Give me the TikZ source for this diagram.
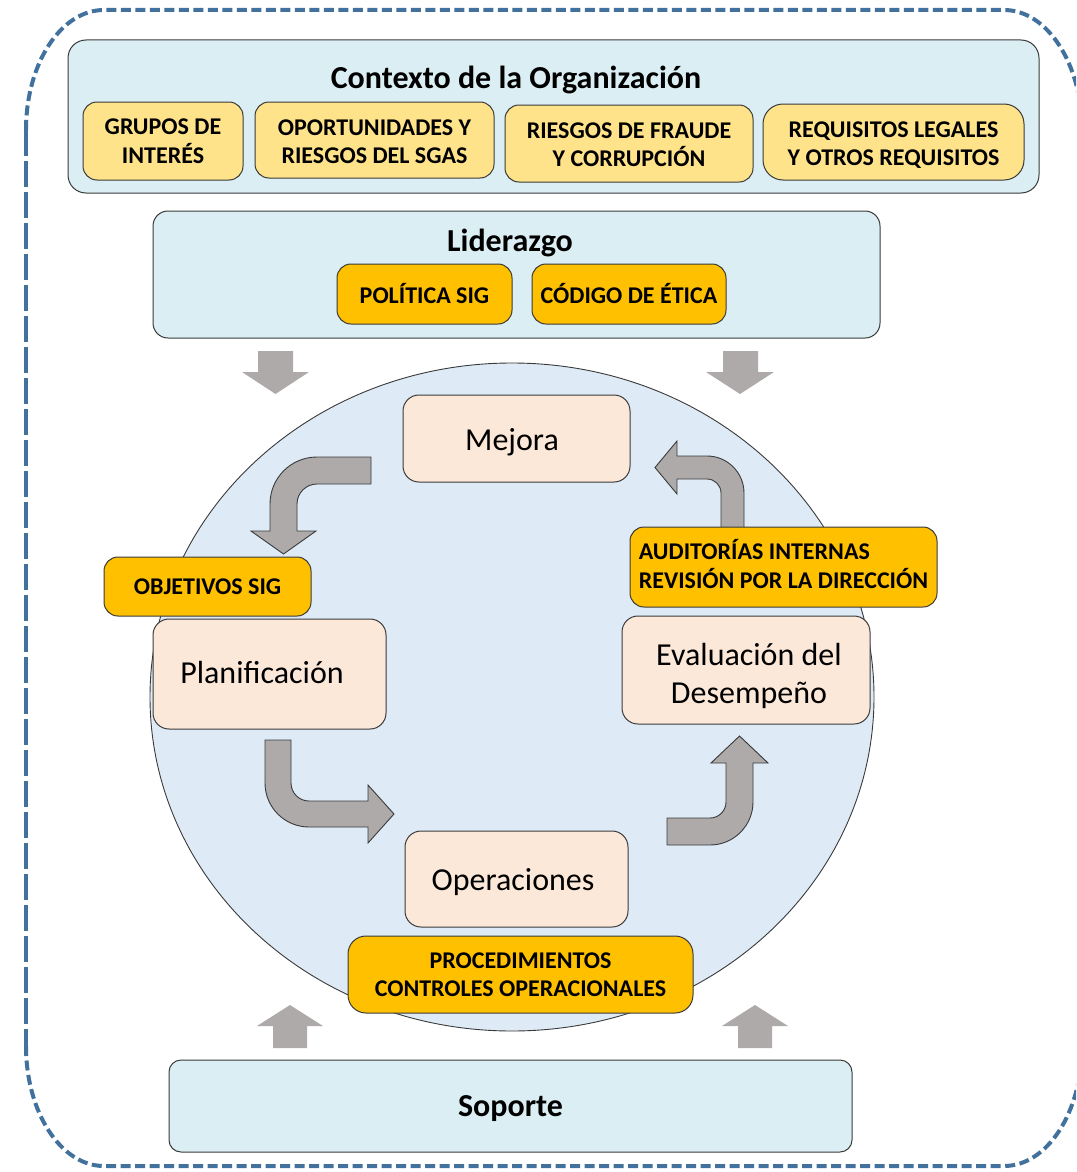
\documentclass[tikz,border=0pt]{standalone}
\usepackage{fontspec}
\setmainfont{Carlito}
\usetikzlibrary{shapes.geometric}
\definecolor{dashblue}{HTML}{41719C}
\definecolor{ctxblue}{HTML}{DAEEF3}
\definecolor{circblue}{HTML}{DEEBF7}
\definecolor{peach}{HTML}{FCE8D9}
\definecolor{ylight}{HTML}{FFE38B}
\definecolor{yorange}{HTML}{FFC000}
\definecolor{arrgray}{HTML}{AEAAAA}
\definecolor{edgegray}{HTML}{3A3A3A}
\newcommand\titlefnt{\fontsize{32}{38}\selectfont\bfseries}
\newcommand\tagfnt{\fontsize{24}{28.5}\selectfont\bfseries}
\newcommand\procfnt{\fontsize{32}{38}\selectfont}
\begin{document}
\begin{tikzpicture}[x=1pt,y=-1pt,
  bigbox/.style={draw=edgegray, fill=ctxblue, line width=1pt, rounded corners=18pt, inner sep=0pt},
  tagbox/.style={draw=edgegray, line width=1pt, rounded corners=14pt, inner sep=0pt},
  lightbox/.style={tagbox, fill=ylight},
  darkbox/.style={tagbox, fill=yorange},
  procbox/.style={draw=edgegray, fill=peach, line width=1pt, rounded corners=16pt, inner sep=0pt},
  titletext/.style={inner sep=0pt, font=\titlefnt},
  tagtext/.style={inner sep=0pt, align=center, font=\tagfnt},
  proctext/.style={inner sep=0pt, align=center, font=\procfnt},
  blockarrow/.style={fill=arrgray, draw=none},
  bentarrow/.style={fill=arrgray, draw=edgegray, line width=0.9pt, line join=miter},
  outline/.style={draw=dashblue, line width=4pt}
]
\useasboundingbox (0,0) rectangle (1076,1172);
\clip (0,0) rectangle (1076,1172);

% outer dashed frame
\draw[outline, dash pattern=on 10pt off 4.5pt]
  (26,1046) .. controls (26,1112.3) and (60.9,1166) .. (104,1166)
  -- (1004,1166) .. controls (1047.1,1166) and (1082,1112.3) .. (1082,1046)
  -- (1082,130) .. controls (1082,63.7) and (1047.1,10) .. (1004,10)
  -- (104,10) .. controls (60.9,10) and (26,63.7) .. (26,130);
\draw[outline, dash pattern=on 26pt off 5pt] (26,130) -- (26,1046);

% Contexto
\node[bigbox, minimum width=971pt, minimum height=153pt] (contexto) at (553.5,116.5) {};
\node[titletext] (contextoT) at (516,80) {Contexto de la Organización};
\node[lightbox, minimum width=160pt, minimum height=78pt] (grupos) at (163,141) {};
\node[tagtext] (gruposT) at (163,141) {GRUPOS DE\\INTERÉS};
\node[lightbox, minimum width=239pt, minimum height=76pt] (oport) at (374.5,140) {};
\node[tagtext] (oportT) at (374.5,141.5) {OPORTUNIDADES Y\\RIESGOS DEL SGAS};
\node[lightbox, minimum width=248pt, minimum height=77pt] (riesgos) at (629,143.5) {};
\node[tagtext] (riesgosT) at (629,144.5) {RIESGOS DE FRAUDE\\Y CORRUPCIÓN};
\node[lightbox, minimum width=261pt, minimum height=76pt, rounded corners=20pt] (requis) at (893.5,142) {};
\node[tagtext] (requisT) at (893.5,145) {REQUISITOS LEGALES\\Y OTROS REQUISITOS};

% Liderazgo
\node[bigbox, rounded corners=15pt, minimum width=727pt, minimum height=127pt] (liderazgo) at (516.5,274.5) {};
\node[titletext] (liderazgoT) at (510,243) {Liderazgo};
\node[darkbox, minimum width=175pt, minimum height=60pt] (politica) at (424.5,294) {};
\node[tagtext] (politicaT) at (424.5,294) {POLÍTICA SIG};
\node[darkbox, minimum width=194pt, minimum height=60pt] (codigo) at (629,294) {};
\node[tagtext] (codigoT) at (629,294) {CÓDIGO DE ÉTICA};

% down arrows
\fill[blockarrow] (258,351) -- (293,351) -- (293,372) -- (309,372) -- (275.5,394) -- (242,372) -- (258,372) -- cycle;
\fill[blockarrow] (723,351) -- (758,351) -- (758,372) -- (774,372) -- (740,394) -- (706,372) -- (723,372) -- cycle;

% cycle
\node[ellipse, draw=edgegray, fill=circblue, line width=0.9pt, minimum width=724pt, minimum height=668pt, inner sep=0pt] (ciclo) at (512,697) {};

% bent arrows
\draw[bentarrow] (371,457) -- (317,457) .. controls (291,457) and (270,478) .. (270,504)
  -- (270,531) -- (251,531) -- (283.5,554) -- (316,531) -- (297,531) -- (297,504)
  .. controls (297,493) and (306,484) .. (317,484) -- (371,484) -- cycle;
\draw[bentarrow] (265,740) -- (291,740) -- (291,783) .. controls (291,792.9) and (299.1,801) .. (309,801)
  -- (368,801) -- (368,785) -- (394,814) -- (368,843) -- (368,827) -- (309,827)
  .. controls (284.7,827) and (265,807.3) .. (265,783) -- cycle;
\draw[bentarrow] (667,818) -- (710,818) .. controls (718.8,818) and (726,810.8) .. (726,802)
  -- (726,763) -- (711,763) -- (739.5,736) -- (768,763) -- (753,763) -- (753,802)
  .. controls (753,825.7) and (733.7,845) .. (710,845) -- (667,845) -- cycle;
\draw[bentarrow] (721,530) -- (721,493) .. controls (721,485.3) and (714.7,479) .. (707,479)
  -- (677,479) -- (677,494) -- (655,467.5) -- (677,441) -- (677,456) -- (707,456)
  .. controls (727.4,456) and (744,472.6) .. (744,493) -- (744,530) -- cycle;

% process boxes and tags
\node[procbox, minimum width=227pt, minimum height=87pt] (mejora) at (516.5,438.5) {};
\node[proctext] (mejoraT) at (512,442.5) {Mejora};
\node[darkbox, minimum width=207pt, minimum height=59pt] (objetivos) at (207.5,586.5) {};
\node[tagtext] (objetivosT) at (207.5,586.5) {OBJETIVOS SIG};
\node[procbox, minimum width=233pt, minimum height=110pt] (planif) at (269.5,674) {};
\node[proctext] (planifT) at (262,672) {Planificación};
\node[darkbox, minimum width=307pt, minimum height=80pt] (auditorias) at (783.5,567) {};
\node[tagtext, align=left] (auditoriasT) at (783.5,564) {AUDITORÍAS INTERNAS\\REVISIÓN POR LA DIRECCIÓN};
\node[procbox, minimum width=248pt, minimum height=108pt] (evaluacion) at (746,670) {};
\node[proctext] (evaluacionT) at (749,676) {Evaluación del\\Desempeño};
\node[procbox, minimum width=223pt, minimum height=96pt] (operaciones) at (516.5,879) {};
\node[proctext] (operacionesT) at (513,882) {Operaciones};
\node[darkbox, minimum width=345pt, minimum height=77pt, rounded corners=18pt] (proced) at (520.5,974.5) {};
\node[tagtext] (procedT) at (520.5,974.5) {PROCEDIMIENTOS\\CONTROLES OPERACIONALES};

% up arrows
\fill[blockarrow] (273,1048) -- (307,1048) -- (307,1026) -- (323,1026) -- (290,1005) -- (257,1026) -- (273,1026) -- cycle;
\fill[blockarrow] (738,1048) -- (772,1048) -- (772,1026) -- (788,1026) -- (755,1005) -- (722,1026) -- (738,1026) -- cycle;

% Soporte
\node[bigbox, rounded corners=12pt, minimum width=683pt, minimum height=92pt] (soporte) at (510.5,1106) {};
\node[titletext] (soporteT) at (510.5,1109) {Soporte};
\end{tikzpicture}
\end{document}
